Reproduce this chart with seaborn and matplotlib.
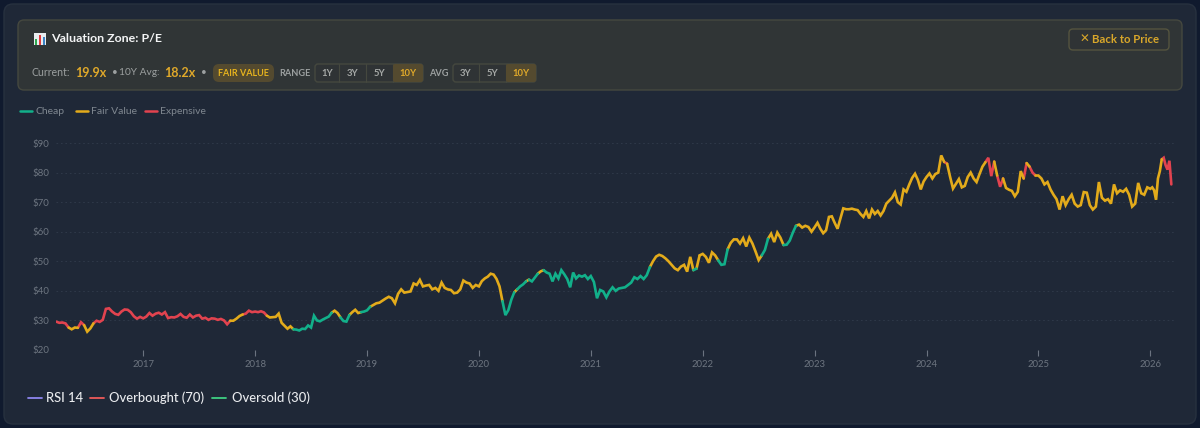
import numpy as np
import pandas as pd
import matplotlib
matplotlib.use("Agg")
import matplotlib.pyplot as plt
from matplotlib.patches import FancyBboxPatch, Rectangle
from matplotlib.ticker import FuncFormatter
import seaborn as sns

# P/E-implied price, one list per calendar year
v2016 = [29.6,29.2,29.3,29.0,27.6,27.0,27.6,27.5,29.4,28.4,26.2,27.3,29.0,29.9,29.5,30.2,33.9,34.1,33.0,32.2,31.9,33.0,33.7,33.6,32.8,31.4,30.6,31.2]
v2017 = [30.7,31.3,32.5,31.6,32.3,32.6,32.0,32.8,30.8,31.1,31.0,31.4,32.2,31.2,30.9,32.0,31.0,31.6,31.8,30.6,30.9,30.2,30.7,30.6,30.2,30.5,30.0,28.7,29.9,29.9,30.6,31.5,32.0,32.3,33.3,32.8]
v2018 = [33.0,32.8,33.1,32.7,31.6,31.0,31.1,31.2,32.3,29.2,28.2,27.2,28.0,27.0,26.9,26.6,27.2,27.1,28.3,27.6,31.6,30.0,29.7,30.3,30.8,31.3,32.6,33.3,32.5,31.0,29.8,29.6,31.8,32.8,33.6,32.5,32.8,33.0]
v2019 = [33.4,34.6,35.2,35.8,36.0,36.7,37.4,38.0,37.5,35.8,39.0,40.5,39.4,39.6,39.8,42.5,42.0,43.7,41.5,41.8,42.0,40.5,41.0,40.0,42.8,41.0,40.5,40.3,39.2,39.4,40.5,43.5,42.8,42.5,41.0,42.0]
v2020 = [41.5,43.3,44.2,44.8,45.8,45.5,44.0,41.5,36.5,31.8,33.5,37.0,39.5,40.5,41.5,42.2,43.2,43.8,43.2,44.5,45.8,46.6,47.0,46.2,45.8,43.2,45.8,44.2,47.0,45.6,44.0,41.2,46.2,44.2,45.2,44.8,45.3,44.0]
v2021 = [45.0,43.0,37.5,40.3,39.8,37.8,39.8,41.2,40.0,40.8,41.0,41.2,42.0,42.8,44.6,44.0,45.0,44.0,45.3,48.0,50.0,51.6,52.2,51.8,51.0,50.0,48.8,47.6,47.0,48.2,48.8,46.5,51.5,47.0,47.5,52.0]
v2022 = [52.5,51.5,49.5,53.0,52.0,50.3,48.8,49.0,54.0,56.2,57.4,57.4,56.0,57.8,55.0,58.0,56.0,53.3,50.4,52.0,53.8,57.6,59.3,56.5,59.7,58.0,55.5,55.6,57.0,59.7,62.0,62.4,61.4,62.0,61.6,60.0]
v2023 = [61.5,63.0,61.0,59.5,60.5,65.0,65.2,63.0,61.0,64.5,67.9,67.6,67.6,67.8,67.5,67.3,66.0,65.0,67.0,64.5,67.5,66.0,67.0,65.5,67.0,69.5,70.5,71.5,73.3,70.0,69.2,74.3,73.5,76.0,78.2,79.6,77.5,74.3,77.0]
v2024 = [78.5,79.7,78.0,79.5,80.0,85.8,83.6,83.0,78.6,74.6,76.2,77.8,75.0,75.5,78.5,80.0,78.0,76.8,79.5,82.0,83.5,85.0,78.8,83.7,79.0,75.2,78.0,74.8,74.2,73.8,72.0,73.5,80.5,78.0,83.2,82.0,80.0,79.0]
v2025 = [79.0,78.0,76.0,76.8,74.3,72.5,71.0,67.5,72.0,69.0,71.0,72.5,69.5,68.5,69.0,73.4,73.2,69.0,67.5,68.5,76.8,71.5,70.5,71.0,69.5,76.0,73.0,74.0,73.5,74.5,72.5,68.5,69.5,76.5,73.0,72.5,75.0]
v2026 = [74.5,75.0,74.0,70.8,78.0,80.5,84.5,85.0,82.5,81.0,84.0,76.0]

year_lists = [v2016, v2017, v2018, v2019, v2020, v2021, v2022, v2023, v2024, v2025, v2026]
year_starts = [2016.222, 2017, 2018, 2019, 2020, 2021, 2022, 2023, 2024, 2025, 2026]
year_ends = [2017, 2018, 2019, 2020, 2021, 2022, 2023, 2024, 2025, 2026, 2026.205]

# Valuation zones: the date each run starts, and its zone
zone_starts = [2016.0,2016.318,2016.392,2016.455,2016.544,2017.777,2017.867,2018.090,2018.340,2018.671,2018.743,2018.832,2018.939,2019.011,
               2020.199,2020.307,2020.333,2020.414,2020.441,2020.521,2020.557,2021.504,2021.906,2021.933,2021.951,2021.969,
               2022.138,2022.201,2022.514,2022.559,2022.719,2022.809,2024.140,2024.167,2024.524,2024.587,2024.614,2024.658,
               2024.864,2024.882,2024.900,2024.972,2026.098,2026.198]
zone_names = ["E","F","E","F","E","F","E","F","C","F","C","F","C","F",
              "C","F","C","F","C","F","C","F","C","F","C","F",
              "C","F","C","F","C","F","E","F","E","F","E","F",
              "E","F","E","F","E","F"]

y_ticks = [20, 30, 40, 50, 60, 70, 80, 90]
x_ticks = [2017, 2018, 2019, 2020, 2021, 2022, 2023, 2024, 2025, 2026]
zone_colors = {"C": "#12b08a", "F": "#e3ab1b", "E": "#e2434f"}
zone_labels = [("Cheap", "C", 20, 35), ("Fair Value", "F", 76, 91), ("Expensive", "E", 145, 160)]
rsi_legend = [("RSI 14", "#8d86ee", 28, 46), ("Overbought (70)", "#ee5a5a", 90, 109), ("Oversold (30)", "#3fd083", 212, 232)]

FONT = "Lato"
sns.set_theme(style="dark")
plt.rcParams["font.family"] = [FONT, "DejaVu Sans"]

# Build long table with segment ids so adjoining runs share an endpoint
xs, ys = [], []
for vals, a, b in zip(year_lists, year_starts, year_ends):
    n = len(vals)
    for i, v in enumerate(vals):
        xs.append(a + (b - a) * i / n)
        ys.append(v)
xs = np.array(xs); ys = np.array(ys)
run = np.searchsorted(zone_starts, xs, side="right") - 1
rows = []
for r in np.unique(run):
    idx = np.where(run == r)[0]
    idx = np.r_[idx, idx[-1] + 1] if idx[-1] + 1 < len(xs) else idx
    for i in idx:
        rows.append((xs[i], ys[i], r, zone_names[r]))
df = pd.DataFrame(rows, columns=["year", "price", "run", "zone"])

fig = plt.figure(figsize=(12, 4.28), dpi=100, facecolor="#101a2e")
bg = fig.add_axes([0, 0, 1, 1], zorder=0)
bg.set_xlim(0, 1200); bg.set_ylim(428, 0); bg.axis("off")

def box(x0, y0, x1, y1, fc, ec="none", r=4, lw=1.0, z=1):
    bg.add_patch(FancyBboxPatch((x0 + r, y0 + r), x1 - x0 - 2 * r, y1 - y0 - 2 * r,
                                boxstyle=f"round,pad={r},rounding_size={r}", fc=fc, ec=ec, lw=lw, zorder=z))

def txt(x, y, s, size, color, weight="normal", ha="left"):
    bg.text(x, y, s, fontsize=size, color=color, fontweight=weight, ha=ha, va="center", zorder=5)

box(4, 4, 1196, 424, "#1f2837", ec="#27313f", r=9)
box(18, 20, 1182, 90, "#303536", ec="#45483f", r=6)
box(1069, 29, 1169, 50, "#2f3335", ec="#55543f", r=4)
txt(1080, 39.5, "✕", 8.5, "#d9a72a")
txt(1092, 39.5, "Back to Price", 8.2, "#d9a72a", weight="bold")

# chart icon
bg.add_patch(Rectangle((34, 33), 12, 12, fc="#e8ecef", ec="none", zorder=3))
for bx, bh, bc in [(35, 6, "#2fa84f"), (39, 10, "#e0393e"), (43, 8, "#3b82c4")]:
    bg.add_patch(Rectangle((bx, 45 - bh), 2.4, bh, fc=bc, ec="none", zorder=4))
txt(51, 38.5, "Valuation Zone: P/E", 8.9, "#f4f5f6", weight="bold")

GREY = "#9ca0a0"
GOLD = "#e0a92a"
txt(32, 72.5, "Current:", 7.6, GREY)
txt(75, 72.5, "19.9x", 9.0, GOLD, weight="bold")
txt(112, 72.5, "•", 7.2, GREY)
txt(119, 72.5, "10Y Avg:", 7.3, GREY)
txt(164, 72.5, "18.2x", 9.0, GOLD, weight="bold")
txt(201, 72.5, "•", 7.2, GREY)
box(213, 64, 274, 82, "#544a2f", r=6)
txt(243.5, 73, "FAIR VALUE", 6.5, "#e8b41e", weight="bold", ha="center")
txt(279, 73, "RANGE", 6.6, GREY, weight="bold")
txt(429, 73, "AVG", 6.6, GREY, weight="bold")

def buttons(edges, labels):
    box(edges[0], 64, edges[-1], 82, "#2f3335", ec="#45483f", r=3)
    for a, b, s in zip(edges[:-1], edges[1:], labels):
        active = s == "10Y"
        if active:
            box(a, 64, b, 82, "#544a2f", r=2, z=2)
        else:
            bg.plot([b, b], [64, 82], color="#45483f", lw=0.8, zorder=2)
        txt((a + b) / 2, 73, s, 6.8, "#e0a92a" if active else "#a5a8a6", ha="center", weight="bold")

buttons([315, 339, 366, 393, 423], ["1Y", "3Y", "5Y", "10Y"])
buttons([453, 479, 506, 536], ["3Y", "5Y", "10Y"])

for name, key, x0, xt in zone_labels:
    bg.plot([x0, x0 + 12], [111, 111], color=zone_colors[key], lw=1.8, zorder=3, solid_capstyle="round")
    txt(xt, 111, name, 7.5, "#7f8790")

for name, col, x0, xt in rsi_legend:
    bg.plot([x0, x0 + 14], [398, 398], color=col, lw=1.3, zorder=3)
    txt(xt, 397.5, name, 9.4, "#e9ebee", weight="medium")

# Chart axes: 56..1175 px wide, $90 at y=143, $20 at y=350
ax_left, ax_right, ax_top, ax_bot = 56, 1176, 143, 350
ax = fig.add_axes([ax_left / 1200, 1 - ax_bot / 428, (ax_right - ax_left) / 1200, (ax_bot - ax_top) / 428], zorder=2)
ax.patch.set_alpha(0)
sns.lineplot(data=df, x="year", y="price", hue="zone", units="run", estimator=None, sort=False,
             palette=zone_colors, lw=1.9, legend=False, solid_joinstyle="miter", ax=ax)
ax.set_xlim(2017 + (ax_left - 143.2) / 111.9, 2017 + (ax_right - 143.2) / 111.9)
ax.set_ylim(20, 90)
ax.set_xlabel(""); ax.set_ylabel("")
ax.set_yticks(y_ticks); ax.set_xticks(x_ticks)
ax.yaxis.set_major_formatter(FuncFormatter(lambda v, _: f"${v:.0f}"))
ax.xaxis.set_major_formatter(FuncFormatter(lambda v, _: f"{v:.0f}"))
ax.grid(axis="y", color="#2e3848", lw=0.8, ls=(0, (1.5, 2.5)))
ax.grid(axis="x", visible=False)
for s in ax.spines.values():
    s.set_visible(False)
ax.tick_params(axis="x", length=4, width=0.8, color="#6b7380", labelsize=6.8, labelcolor="#6d7580", pad=3, direction="out", bottom=True)
ax.tick_params(axis="y", length=0, labelsize=7.0, labelcolor="#6d7580", pad=5)
for lab in ax.get_xticklabels() + ax.get_yticklabels():
    lab.set_family([FONT, "DejaVu Sans"])

fig.savefig("out.png", dpi=100, facecolor=fig.get_facecolor())
